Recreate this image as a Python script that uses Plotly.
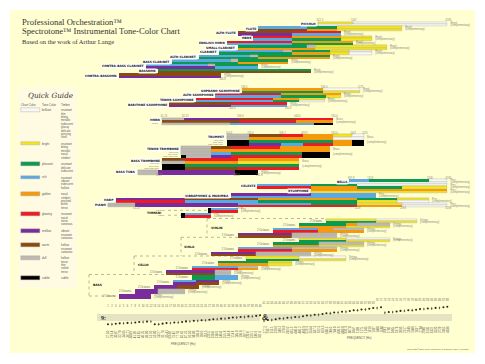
import plotly.graph_objects as go

# ---------- tone colours ----------
tone_names = ["brilliant", "bright", "pleasant", "rich", "golden", "glowing", "mellow", "warm", "dull", "subtle"]
tone_codes = ["W", "Y", "G", "L", "O", "R", "P", "N", "D", "K"]
tone_colors = ["#F8F8F6", "#F4E51C", "#0B9A50", "#5AA9E2", "#F59A0C", "#EE1B24", "#7A2C9C", "#8A4A12", "#BDB9B2", "#000000"]
tone_timbres = [
    ["resonant", "thin", "biting", "metallic", "iridescent", "glassy", "delicate", "piercing", "shrill"],
    ["resonant", "biting", "metallic", "nasal", "strident"],
    ["resonant", "delicate", "iridescent"],
    ["resonant", "vibrant", "iridescent", "hollow"],
    ["nasal", "strident", "pinched", "brittle", "tense"],
    ["resonant", "nasal", "tense", "sonorous"],
    ["vibrant", "resonant", "sonorous"],
    ["hollow", "resonant", "sonorous"],
    ["hollow", "tense", "thin", "veiled", "tense"],
    ["subtle"],
]

# Frequencies of the 88 keys, as printed along the bottom
frequencies = ["27.50","29.14","30.87","32.70","34.65","36.71","38.89","41.20","43.65","46.25","49.00","51.91",
"55.00","58.27","61.74","65.41","69.30","73.42","77.78","82.41","87.31","92.50","98.00","103.8","110.0","116.5",
"123.5","130.8","138.6","146.8","155.6","164.8","174.6","185.0","196.0","207.7","220.0","233.1","246.9","261.6",
"277.2","293.7","311.1","329.6","349.2","370.0","392.0","415.3","440.0","466.2","493.9","523.3","554.4","587.3",
"622.3","659.3","698.5","740.0","784.0","830.6","880.0","932.3","987.8","1047","1109","1175","1245","1319","1397",
"1480","1568","1661","1760","1865","1976","2093","2217","2349","2489","2637","2794","2960","3136","3322","3520",
"3729","3951","4186"]

# ---------- instrument ranges: strips of (start key, [(tone, end key), ...]) ----------
piccolo = [(54.8, [("Y", 63.8), ("W", 88)]), (54.8, [("W", 88)])]
flute = [(39.5, [("L", 52), ("G", 59.7), ("Y", 76.4)]), (39.5, [("N", 52), ("O", 59.7), ("Y", 76.4)])]
alto_flute = [(34.3, [("N", 48.2), ("R", 60.7)]), (34.3, [("P", 48.2), ("L", 60.7)])]
oboe = [(38.2, [("R", 48.2), ("O", 60.7), ("Y", 68.7)]), (38.2, [("L", 48.2), ("G", 60.7), ("Y", 68.7)])]
english_horn = [(31.5, [("R", 48.2), ("O", 63.8)]), (31.5, [("L", 48.2), ("G", 63.8)])]
small_clarinet = [(34.3, [("G", 52), ("D", 54.1), ("Y", 72.5)]), (34.3, [("O", 54.1), ("Y", 72.5)])]
clarinet = [(29.5, [("L", 45.9), ("D", 48.2), ("G", 57.9), ("Y", 62.8), ("W", 68.7)]),
            (29.5, [("G", 48.2), ("O", 57.9), ("Y", 62.8), ("W", 68.7)])]
alto_clarinet = [(24.3, [("L", 37.4), ("D", 39.5), ("G", 57.9)]), (24.3, [("G", 39.5), ("O", 57.9)])]
bass_clarinet = [(17.4, [("L", 32.5), ("D", 34.3), ("G", 47.2)]), (17.4, [("G", 34.3), ("O", 47.2)])]
contra_bass_clarinet = [(10.7, [("L", 26.6), ("D", 28.4), ("G", 39.5)]), (10.7, [("P", 28.4), ("L", 39.5)])]
bassoon = [(13.8, [("G", 53)]), (13.8, [("N", 53)])]
contra_bassoon = [(3.8, [("N", 30)]), (3.8, [("P", 30)])]

soprano_sax = [(35.4, [("O", 56.1), ("W", 65.6)]), (35.4, [("G", 56.1), ("Y", 65.6)])]
alto_sax = [(28.4, [("R", 45.4), ("O", 60.7)]), (28.4, [("L", 45.4), ("G", 56.9), ("Y", 60.7)])]
tenor_sax = [(23.6, [("R", 43.3), ("O", 50), ("Y", 56.6)]), (23.6, [("L", 43.3), ("G", 50), ("W", 56.6)])]
baritone_sax = [(16.6, [("N", 32.5), ("R", 46.9)]), (16.6, [("P", 32.5), ("L", 46.9)])]

horn = [(14.8, [("D", 20.5), ("P", 34.6), ("N", 49.2), ("R", 58.7)]),
        (14.8, [("N", 34.6), ("R", 49.2), ("O", 58.7)]),
        (14.8, [("D", 32.3), ("L", 53.8), ("K", 58.7)])]
trumpet = [(31.5, [("D", 37.2), ("N", 45.4), ("R", 51), ("O", 58.7), ("Y", 63.6), ("W", 66.6)]),
           (31.5, [("D", 37.2), ("O", 58.7), ("W", 66.6)]),
           (31.5, [("K", 37.2), ("G", 58.7), ("O", 63.6), ("K", 66.6)]),
           (31.5, [("K", 37.2), ("P", 45.4), ("L", 51), ("R", 58.7), ("O", 63.6), ("K", 66.6)])]
tenor_trombone = [(19.7, [("D", 27.4), ("N", 32.5), ("R", 45.1), ("O", 57.9)]),
                  (19.7, [("D", 27.4), ("O", 57.9)]),
                  (19.7, [("D", 27.4), ("L", 32.5), ("G", 50.7), ("K", 57.9)]),
                  (19.7, [("K", 21), ("D", 27.4), ("P", 32.5), ("R", 50.7), ("K", 57.9)])]
bass_trombone = [(14.8, [("N", 20.7), ("R", 34.3), ("O", 50)]),
                 (14.8, [("D", 20.7), ("O", 34.3), ("Y", 50)]),
                 (14.8, [("K", 20.7), ("G", 50)]),
                 (14.8, [("K", 20.7), ("N", 34.3), ("R", 50)])]
bass_tuba = [(8.7, [("D", 13.8), ("P", 33.6), ("K", 39.5)])]

bells = [(62.8, [("L", 68), ("G", 83.3), ("W", 88)]), (62.8, [("W", 88)])]
celeste = [(39.2, [("L", 53), ("G", 64.8), ("W", 88)]), (39.2, [("R", 53), ("O", 64.8), ("G", 76.4), ("Y", 88)])]
xylophone = [(53, [("O", 88)]), (53, [("Y", 88)])]
vibraphone_marimba = [(32.5, [("P", 53), ("L", 69.7)]), (32.5, [("L", 69.7)])]
harp = [(3, [("P", 20.7), ("N", 39.5), ("O", 64.8), ("G", 75.1), ("Y", 83.3)]),
        (3, [("R", 20.7), ("L", 39.5), ("G", 64.8), ("Y", 75.1), ("W", 83.3)])]
piano = [(1, [("D", 7.9), ("P", 34.3), ("L", 53), ("G", 64.8), ("Y", 76.4), ("W", 88)]),
         (1, [("D", 7.9), ("P", 34.3), ("R", 64.8), ("O", 76.4), ("W", 88)])]
timpani_medium = [(26.6, [("K", 27.4), ("L", 34.3)]), (26.6, [("K", 27.4), ("R", 34.3)])]
timpani_large = [(19.7, [("K", 20.7), ("L", 27.4)]), (19.7, [("K", 20.7), ("R", 27.4)])]

violin_1 = [(56.9, [("Y", 69.7), ("W", 80.2)]), (56.9, [("G", 69.7), ("Y", 80.2)])]
violin_2 = [(50, [("G", 62), ("O", 64.8), ("D", 73.3)]), (50, [("O", 62), ("Y", 73.3)])]
violin_3 = [(43.3, [("L", 54.8), ("O", 58.7), ("D", 66.6)]), (43.3, [("R", 54.8), ("O", 66.6)])]
violin_4 = [(34.3, [("P", 48.2), ("D", 59.7)]), (34.3, [("N", 48.2), ("D", 59.7)])]
viola_1 = [(50, [("Y", 62), ("W", 73.3)]), (50, [("G", 62), ("Y", 73.3)])]
viola_2 = [(43.3, [("G", 55.1), ("D", 66.6)]), (43.3, [("O", 55.1), ("Y", 66.6)])]
viola_3 = [(34.3, [("L", 48.2), ("D", 59.7)]), (34.3, [("R", 48.2), ("O", 59.7)])]
viola_4 = [(27.4, [("P", 39), ("D", 53)]), (27.4, [("N", 39), ("D", 53)])]
cello_1 = [(36.4, [("Y", 50), ("W", 62)]), (36.4, [("G", 50), ("Y", 62)])]
cello_2 = [(29.2, [("G", 42), ("Y", 48.2)]), (29.2, [("O", 42), ("Y", 48.2)])]
cello_3 = [(22.5, [("L", 34.3), ("D", 39.5)]), (22.5, [("R", 34.3), ("O", 39.5)])]
cello_4 = [(15.9, [("P", 28.4), ("D", 32.5)]), (15.9, [("N", 28.4), ("D", 32.5)])]
bass_1 = [(22.5, [("G", 28.4), ("L", 34.3)]), (22.5, [("G", 28.4), ("L", 34.3)])]
bass_2 = [(17.7, [("L", 23.6), ("P", 29.5)]), (17.7, [("P", 23.6), ("N", 29.5)])]
bass_3 = [(12.8, [("P", 18.7), ("N", 24.3)]), (12.8, [("P", 18.7), ("N", 24.3)])]
bass_4 = [(7.9, [("P", 13.8), ("D", 20.7)]), (7.9, [("P", 13.8), ("D", 20.7)])]
bass_5 = [(3.8, [("P", 12)])]

# ---------- page layout (px-like y units) ----------
W, H = 485, 364
X0, PX_PER_KEY = 108.0, 3.9
def kx(px):
    return 1 + (px - X0) / PX_PER_KEY
RH = 4.7
rows = []
def add_group(top, rh, items, note):
    y = top
    for it in items:
        rows.append(dict(y=y, h=rh, strips=it[0], label=it[1], note=note))
        y += rh
add_group(21.7, RH, [(piccolo, "PICCOLO"), (flute, "FLUTE"), (alto_flute, "ALTO FLUTE"), (oboe, "OBOE"),
                     (english_horn, "ENGLISH HORN"), (small_clarinet, "SMALL CLARINET"), (clarinet, "CLARINET"),
                     (alto_clarinet, "ALTO CLARINET"), (bass_clarinet, "BASS CLARINET"),
                     (contra_bass_clarinet, "CONTRA-BASS CLARINET"), (bassoon, "BASSOON"),
                     (contra_bassoon, "CONTRA-BASSOON")], "Reed")
add_group(88.3, RH, [(soprano_sax, "SOPRANO SAXOPHONE"), (alto_sax, "ALTO SAXOPHONE"),
                     (tenor_sax, "TENOR SAXOPHONE"), (baritone_sax, "BARITONE SAXOPHONE")], "Reed")
add_group(117.6, 7.4, [(horn, "HORN")], "Brass")
add_group(134.2, 11.9, [(trumpet, "TRUMPET"), (tenor_trombone, "TENOR TROMBONE"), (bass_trombone, "BASS TROMBONE")], "Brass")
add_group(169.8, 4.8, [(bass_tuba, "BASS TUBA")], "Brass")
add_group(179.2, RH, [(bells, "BELLS"), (celeste, "CELESTE"), (xylophone, "XYLOPHONE"),
                      (vibraphone_marimba, "VIBRAPHONE & MARIMBA"), (harp, "HARP"), (piano, "PIANO")], "Perc.")
add_group(207.9, 4.9, [(timpani_medium, ""), (timpani_large, "")], "Perc.")
add_group(218.7, RH, [(violin_1, ""), (violin_2, ""), (violin_3, ""), (violin_4, ""),
                      (viola_1, ""), (viola_2, ""), (viola_3, ""), (viola_4, ""),
                      (cello_1, ""), (cello_2, ""), (cello_3, ""), (cello_4, ""),
                      (bass_1, ""), (bass_2, ""), (bass_3, ""), (bass_4, ""), (bass_5, "")], "Strings")

free_labels = [("TIMPANI", 162, 212.7), ("VIOLIN", 224, 228), ("VIOLA", 196, 247), ("CELLO", 150, 265), ("BASS", 103, 285)]
group_tops = (21.7, 88.3, 117.6, 134.2, 179.2)

# ---------- bars ----------
bars = {c: dict(y=[], base=[], x=[], w=[]) for c in tone_codes}
small_x, small_y, small_t = [], [], []
for r in rows:
    n = len(r["strips"])
    sh = r["h"] / n
    for i, (start, segs) in enumerate(r["strips"]):
        s = start
        for code, end in segs:
            b = bars[code]
            b["y"].append(r["y"] + sh * (i + 0.5)); b["base"].append(s); b["x"].append(end - s); b["w"].append(sh)
            s = end
    first = r["strips"][0]
    last_end = max(seg[-1][1] for _, seg in r["strips"])
    small_x.append(last_end + 0.8); small_y.append(r["y"] + r["h"] * 0.3); small_t.append(r["note"])
    small_x.append(last_end + 0.8); small_y.append(r["y"] + r["h"] * 0.7); small_t.append("(complementary)")
    if r["y"] in group_tops:
        small_x.append(first[0] - 0.3); small_y.append(r["y"] - 0.9); small_t.append(frequencies[max(0, round(first[0]) - 1)])
        for _, end in first[1]:
            small_x.append(end - 0.5); small_y.append(r["y"] - 0.9); small_t.append(frequencies[min(87, round(end) - 1)])
    for _, end in r["strips"][-1][1]:
        if r["label"] in ("CONTRA-BASSOON", "BARITONE SAXOPHONE", "BASS TUBA", "PIANO"):
            small_x.append(end - 0.5); small_y.append(r["y"] + r["h"] + 1); small_t.append(frequencies[min(87, round(end) - 1)])

fig = go.Figure()

shapes = [
    dict(type="rect", xref="x", yref="y", x0=kx(10), x1=kx(475), y0=10, y1=353, fillcolor="#FFFFD2", line_width=0, layer="below"),
    dict(type="rect", xref="x", yref="y", x0=kx(18), x1=kx(77), y0=87, y1=288, fillcolor="#FFFBE3", line_width=0, layer="below"),
    dict(type="rect", xref="x", yref="y", x0=kx(97), x1=kx(260), y0=314, y1=321, fillcolor="#E4E4C2", line_width=0, layer="below"),
    dict(type="rect", xref="x", yref="y", x0=kx(265), x1=kx(452), y0=314, y1=321, fillcolor="#E4E4C2", line_width=0, layer="below"),
]
for pts in [[(207, 218.5), (326, 218.5)], [(207, 218.5), (207, 237)],
            [(181, 237.3), (299, 237.3)], [(181, 237.3), (181, 256)],
            [(134, 256), (246, 256)], [(134, 256), (134, 274.5)],
            [(89, 274.5), (192, 274.5)], [(89, 274.5), (89, 296)], [(89, 296), (119, 296)],
            [(168, 210.3), (208, 210.3)], [(168, 215.2), (181, 215.2)]]:
    shapes.append(dict(type="line", xref="x", yref="y", x0=kx(pts[0][0]), y0=pts[0][1], x1=kx(pts[1][0]), y1=pts[1][1],
                       line=dict(color="#8A8A70", width=0.6, dash="dot"), layer="below"))
fig.update_layout(shapes=shapes)

for code, col, name in zip(tone_codes, tone_colors, tone_names):
    b = bars[code]
    outline = code in ("W", "D", "Y")
    fig.add_trace(go.Bar(orientation="h", y=b["y"], x=b["x"], base=b["base"], width=b["w"], name=name,
                         marker=dict(color=col, line=dict(color="#9A9A94" if outline else col, width=0.3 if outline else 0)),
                         showlegend=False, hoverinfo="skip"))

fig.add_trace(go.Scatter(x=small_x, y=small_y, mode="text", text=small_t, textposition="middle right",
                         textfont=dict(size=2.6, color="#8A8A7C", family="Liberation Sans"),
                         showlegend=False, hoverinfo="skip"))

oct_x, oct_y = [], []
for r in rows:
    if r["note"] == "Strings":
        oct_x.append(r["strips"][0][0] - 1); oct_y.append(r["y"] + r["h"] / 2)
fig.add_trace(go.Scatter(x=oct_x, y=oct_y, mode="text", text=["2 Octaves"] * len(oct_x), textposition="middle left",
                         textfont=dict(size=2.7, color="#66665A", family="Liberation Sans"),
                         showlegend=False, hoverinfo="skip"))

keys = list(range(1, 89))
def key_y(k):
    return 306.6 if k <= 40 else (303 if k <= 69 else 300.6)
fig.add_trace(go.Scatter(x=keys, y=[key_y(k) for k in keys], mode="text", text=[str(k) for k in keys],
                         textfont=dict(size=2.6, color="#66665A", family="Liberation Sans"),
                         showlegend=False, hoverinfo="skip"))

step_of = [0, 0, 1, 2, 2, 3, 3, 4, 5, 5, 6, 6]
blocks = [(1, 12, 324.2, 321.6), (13, 40, 324.2, 315.3), (41, 71, 320.7, 307.2), (72, 88, 312.7, 306.7)]
note_x, note_y, flat_x, flat_y = [], [], [], []
for k0, k1, y0, y1 in blocks:
    def diat(k):
        q, m = divmod(k - 1, 12)
        return q * 7 + step_of[m]
    for k in range(k0, k1 + 1):
        y = y0 + (y1 - y0) * (diat(k) - diat(k0)) / max(1, diat(k1) - diat(k0))
        if (k - 1) % 12 in (1, 4, 6, 9, 11):
            flat_x.append(k); flat_y.append(y)
        else:
            note_x.append(k); note_y.append(y)
fig.add_trace(go.Scatter(x=note_x, y=note_y, mode="markers", marker=dict(size=2.1, color="#2A2A22", symbol="circle"),
                         showlegend=False, hoverinfo="skip"))
fig.add_trace(go.Scatter(x=flat_x, y=flat_y, mode="markers", marker=dict(size=2.4, color="#55554A", symbol="diamond-tall"),
                         showlegend=False, hoverinfo="skip"))

guide_y = [110, 143.7, 164, 177.3, 194, 214, 231, 245, 258, 278]
for col, y, code in zip(tone_colors, guide_y, tone_codes):
    fig.add_trace(go.Bar(orientation="h", y=[y], x=[kx(39.5) - kx(20.5)], base=[kx(20.5)], width=[3.2],
                         marker=dict(color=col, line=dict(color="#A5A59A", width=0.4)),
                         showlegend=False, hoverinfo="skip"))

ann = []
def text(px, y, t, size, color="#333", family="Liberation Sans", anchor="left", bg=None, angle=0):
    d = dict(xref="x", yref="y", x=kx(px), y=y, text=t, showarrow=False, xanchor=anchor, yanchor="middle",
             font=dict(size=size, color=color, family=family), borderpad=0, textangle=angle)
    if bg:
        d["bgcolor"] = bg
    ann.append(d)

text(20.5, 22, "Professional Orchestration™", 8.6, "#333", "Liberation Serif")
text(20.5, 31, "Spectrotone™ Instrumental Tone-Color Chart", 8.6, "#333", "Liberation Serif")
text(20.5, 41, "Based on the work of Arthur Lange", 6.5, "#333", "Liberation Serif")
text(27, 95, "<i>Quick Guide</i>", 7.2, "#333", "DejaVu Serif")
text(20.3, 105, "Chart Color", 2.9, "#555")
text(41, 105, "Tone Color", 2.9, "#555")
text(60, 105, "Timbre", 2.9, "#555")
for name, y, timbres in zip(tone_names, guide_y, tone_timbres):
    text(41, y, name, 2.9, "#555")
    for i, t in enumerate(timbres):
        text(60, y + 0.2 + i * 3.4, t, 2.8, "#555")

for r in rows:
    if r["label"]:
        text(X0 + (r["strips"][0][0] - 1) * PX_PER_KEY - 1.2, r["y"] + r["h"] / 2 if r["h"] < 6 else r["y"] + 2.5,
             "<b>" + r["label"] + "</b>", 3.0, "#111", "DejaVu Sans", "right", "#FFFFFF")
for t, px, y in free_labels:
    text(px, y, "<b>" + t + "</b>", 3.0, "#111", "DejaVu Sans", "right")

for top, startpx in [(134.2, 225), (146.1, 179.5), (158, 160.5)]:
    for i, m in enumerate(["Cup Mute", "Solo Mute", "Wah-Wah Mute"]):
        text(startpx, top + 5.4 + i * 2.3, m, 2.2, "#77776A", "Liberation Sans", "right")
text(160, 123, "Mutes", 2.2, "#77776A", "Liberation Sans", "right")
text(166, 210.3, "Medium", 2.5, "#77776A", "Liberation Sans", "right")
text(166, 215.2, "Large", 2.5, "#77776A", "Liberation Sans", "right")

for k, f in zip(keys, frequencies):
    text(X0 + (k - 1) * PX_PER_KEY, 334 if k <= 40 else 329.5, f, 2.9, "#55554A", "Liberation Sans", "center", angle=-90)
text(170, 344, "FREQUENCY (Hz)", 2.9, "#555")
text(346, 338.3, "FREQUENCY (Hz)", 2.9, "#555")
text(470, 349, "Copyright ©2009 Peter Lawrence & Caroline Jane Alexander", 2.3, "#555", "Liberation Sans", "right")
text(100, 317.5, "<b>9:</b>", 6, "#222", "Liberation Serif")
text(261, 317.5, "<i><b>&</b></i>", 8, "#222", "Liberation Serif")

fig.update_layout(
    annotations=ann, width=W, height=H, margin=dict(l=0, r=0, t=0, b=0),
    paper_bgcolor="#FFFFFF", plot_bgcolor="rgba(0,0,0,0)", barmode="overlay", bargap=0, bargroupgap=0, showlegend=False,
    xaxis=dict(range=[kx(0), kx(W)], visible=False, fixedrange=True),
    yaxis=dict(range=[H, 0], visible=False, fixedrange=True),
)
fig.write_html("out.html", config={"displayModeBar": False},
               post_script="document.body.style.margin='0';document.documentElement.style.overflow='hidden';")
